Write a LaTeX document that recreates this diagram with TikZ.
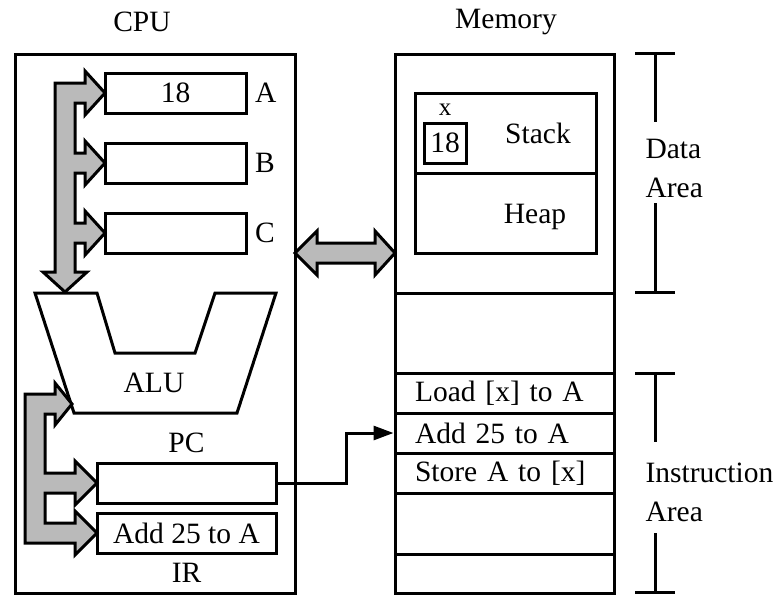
\documentclass[tikz,border=0pt]{standalone}
\usepackage{fontspec}
\setmainfont{Liberation Serif}
\usepackage{tikz}
\usetikzlibrary{positioning}
\usetikzlibrary{arrows.meta}

\tikzset{
    box/.style={draw, line width=3pt, inner sep=0pt},
    reg/.style={box, minimum width=141pt, minimum height=40pt},
    memrow/.style={box, minimum height=40pt, text width=179pt, align=left, inner xsep=20pt},
    bus/.style={draw, line width=3pt, fill=black!27, line join=miter},
    wire/.style={line width=3pt, -{Triangle[length=20pt,width=14pt]}},
    tick/.style={line width=3pt},
}

\begin{document}
\begin{tikzpicture}[x=1pt, y=-1pt, font=\fontsize{29.5}{38.5}\selectfont]
    \useasboundingbox (0,0) rectangle (784,614);

    % titles
    \node (cputitle) at (142,22) {CPU};
    \node (memtitle) at (506,22) {Memory};

    % cpu side
    \node [box, minimum width=280pt, minimum height=539pt] (cpu) at (155,323.5) {};
    \node [reg, label={[label distance=4pt]right:A}] (rega) at (175.5,93) {18};
    \node [reg, below=27pt of rega, label={[label distance=4pt]right:B}] (regb) {};
    \node [reg, below=27pt of regb, label={[label distance=4pt]right:C}] (regc) {};

    \draw [box] (35,293) -- (97,293) -- (115,353) -- (195,353) -- (215,293)
        -- (276,293) -- (237,413) -- (74,413) -- cycle;
    \node (alu) at (154,383) {ALU};

    \node [reg, minimum width=179pt, label={[label distance=5pt]above:PC}] (pc) at (186.5,483) {};
    \node [reg, minimum width=179pt, label={[label distance=5pt]below:IR}] (ir) at (186.5,533) {Add 25 to A};

    % register bus
    \draw [bus] (55,83) -- (85,83) -- (85,71) -- (105,93) -- (85,115) -- (85,103)
        -- (75,103) -- (75,153) -- (85,153) -- (85,141) -- (105,163) -- (85,185) -- (85,173)
        -- (75,173) -- (75,223) -- (85,223) -- (85,211) -- (105,233) -- (85,255) -- (85,243)
        -- (75,243) -- (75,272) -- (87,272) -- (65,292) -- (43,272) -- (55,272) -- cycle;

    % control bus
    \draw [bus] (25,394) -- (55,394) -- (55,383) -- (72,404) -- (55,425) -- (55,414)
        -- (45,414) -- (45,473) -- (75,473) -- (75,461) -- (97,483) -- (75,505) -- (75,493)
        -- (45,493) -- (45,523) -- (75,523) -- (75,511) -- (97,533) -- (75,555) -- (75,543)
        -- (25,543) -- cycle;

    % cpu <-> memory
    \draw [bus] (295,253) -- (317,231) -- (317,243) -- (375,243) -- (375,231) -- (395,253)
        -- (375,275) -- (375,263) -- (317,263) -- (317,275) -- cycle;

    % memory side
    \node [box, minimum width=219pt, minimum height=539pt] (mem) at (504.5,323.5) {};
    \draw [box] (395,293) -- (614,293);
    \draw [box] (395,554) -- (614,554);

    \node [box, minimum width=181pt, minimum height=80pt] (stack) at (505.5,133) {};
    \node [box, minimum width=181pt, minimum height=80pt] (heap) at (505.5,213) {};
    \node (stacklbl) at (538,133) {Stack};
    \node (heaplbl) at (535,217) {Heap};
    \node [box, minimum width=42pt, minimum height=40pt] (xvar) at (445,143) {18};
    \node [font=\fontsize{25}{27}\selectfont] (xlbl) at (445,110) {x};

    \node [memrow] (ldrow) at (504.5,393) {Load [x] to A};
    \node [memrow] (addrow) at (504.5,433) {Add 25 to A};
    \node [memrow] (strow) at (504.5,473) {Store A to [x]};

    \draw [wire] (pc.east) -- ++(69,0) |- (addrow.west);

    % area brackets
    \draw [tick] (635,53) -- (675,53) (655,53) -- (655,122);
    \draw [tick] (655,203) -- (655,292) (635,292) -- (675,292);
    \node [anchor=west, align=left] (datalbl) at (642,168.5) {Data\\Area};

    \draw [tick] (635,373) -- (675,373) (655,373) -- (655,442);
    \draw [tick] (655,533) -- (655,592) (635,592) -- (675,592);
    \node [anchor=west, align=left] (instlbl) at (642,492.5) {Instruction\\Area};
\end{tikzpicture}
\end{document}
